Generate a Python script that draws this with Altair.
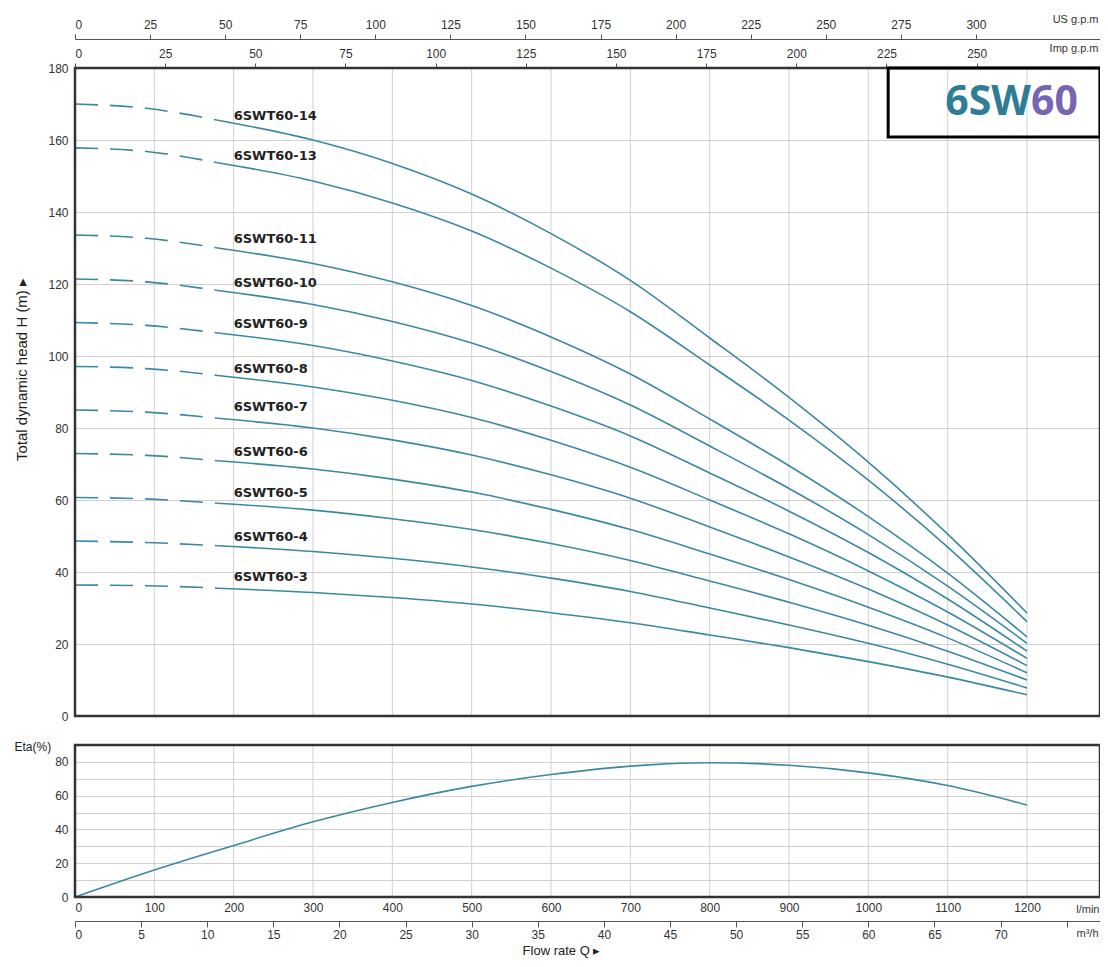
import altair as alt
import pandas as pd

# ---------------- data ----------------
FLOW = [0, 90, 180, 300, 400, 500, 600, 700, 800, 900, 1000, 1100, 1200]  # l/min
DASH_LIMIT = 180  # dashed part of the curves ends here

MODELS = ["6SWT60-14", "6SWT60-13", "6SWT60-11", "6SWT60-10", "6SWT60-9",
          "6SWT60-8", "6SWT60-7", "6SWT60-6", "6SWT60-5", "6SWT60-4", "6SWT60-3"]

HEAD_14 = [170.0, 168.8, 165.5, 160.0, 153.5, 145.0, 134.0, 121.0, 105.0, 88.5, 70.5, 50.5, 28.6]
HEAD_13 = [157.8, 156.8, 153.7, 148.6, 142.5, 134.7, 124.4, 112.3, 97.5, 82.2, 65.5, 46.9, 26.2]
HEAD_11 = [133.6, 132.7, 130.0, 125.7, 120.6, 114.0, 105.3, 95.0, 82.5, 69.5, 55.4, 39.7, 22.0]
HEAD_10 = [121.4, 120.6, 118.2, 114.3, 109.6, 103.6, 95.7, 86.4, 75.0, 63.2, 50.4, 36.1, 20.2]
HEAD_9 = [109.3, 108.5, 106.4, 102.9, 98.6, 93.2, 86.1, 77.8, 67.5, 56.9, 45.4, 32.5, 18.0]
HEAD_8 = [97.1, 96.5, 94.6, 91.4, 87.7, 82.9, 76.6, 69.1, 60.0, 50.6, 40.3, 28.9, 16.0]
HEAD_7 = [85.0, 84.4, 82.7, 80.0, 76.7, 72.5, 67.0, 60.5, 52.5, 44.2, 35.3, 25.3, 14.0]
HEAD_6 = [72.9, 72.4, 70.9, 68.6, 65.8, 62.2, 57.4, 51.8, 45.0, 37.9, 30.2, 21.7, 12.0]
HEAD_5 = [60.7, 60.3, 59.1, 57.2, 54.8, 51.8, 47.9, 43.2, 37.5, 31.6, 25.2, 18.0, 10.0]
HEAD_4 = [48.6, 48.2, 47.3, 45.7, 43.8, 41.4, 38.3, 34.6, 30.0, 25.3, 20.2, 14.4, 7.8]
HEAD_3 = [36.4, 36.2, 35.5, 34.3, 32.9, 31.1, 28.7, 25.9, 22.5, 19.0, 15.1, 10.8, 5.9]

HEADS = [HEAD_14, HEAD_13, HEAD_11, HEAD_10, HEAD_9, HEAD_8, HEAD_7,
         HEAD_6, HEAD_5, HEAD_4, HEAD_3]

LABEL_FLOW = 200
LABEL_HEAD = [166.6, 155.6, 132.4, 120.4, 108.9, 96.5, 85.7, 73.3, 62.0, 49.8, 38.6]

ETA_FLOW = [0, 100, 200, 300, 400, 500, 600, 700, 800, 900, 1000, 1100, 1200]
ETA = [0, 16.0, 30.5, 44.5, 56.0, 65.5, 72.5, 77.5, 79.5, 78.0, 73.5, 66.0, 54.5]

LMIN_TICKS = list(range(0, 1201, 100))
HEAD_TICKS = list(range(0, 181, 20))
ETA_TICKS = list(range(0, 81, 10))
US_TICKS = list(range(0, 301, 25))
IMP_TICKS = list(range(0, 251, 25))
M3H_TICKS = list(range(0, 76, 5))

# ---------------- styling / layout ----------------
CURVE = "#3b88a4"
GRID = "#d0d0d0"
FRAME = "#333333"
FONT = "Liberation Sans"
LBL = 12
X_MAX = 1292          # right edge of the plot frame, l/min
W = 1025
MAIN_H = 648
GAP = 29
ETA_H = 152
H = MAIN_H + GAP + ETA_H

# title box "6SW60" (l/min, m)
BOX = {"flow": 1025, "flow2": X_MAX, "head": 180, "head2": 160.8}
BOX_TEXT_FLOW = 1205
BOX_TEXT_HEAD = 170.3

# ---------------- tables ----------------
rows = []
for model, heads in zip(MODELS, HEADS):
    for q, h in zip(FLOW, heads):
        if q <= DASH_LIMIT:
            rows.append({"model": model, "flow": q, "head": h, "seg": "dash"})
        if q >= DASH_LIMIT:
            rows.append({"model": model, "flow": q, "head": h, "seg": "solid"})
curves = pd.DataFrame(rows)
labels = pd.DataFrame({"model": MODELS, "flow": [LABEL_FLOW] * len(MODELS), "head": LABEL_HEAD})
eta = pd.DataFrame({"flow": ETA_FLOW, "eta": ETA})
box = pd.DataFrame([BOX])
boxtext = pd.DataFrame({"flow": [BOX_TEXT_FLOW], "head": [BOX_TEXT_HEAD]})
vgrid = pd.DataFrame({"flow": LMIN_TICKS[1:]})
frame_main = pd.DataFrame({"flow": [0], "flow2": [X_MAX], "head": [0], "head2": [180]})
frame_eta = pd.DataFrame({"flow": [0], "flow2": [X_MAX], "eta": [0], "eta2": [90]})


def xs():
    return alt.Scale(domain=[0, X_MAX], nice=False, zero=False)


def hs():
    return alt.Scale(domain=[0, 180], range=[MAIN_H, 0], nice=False, zero=False)


def es():
    return alt.Scale(domain=[0, 90], range=[H, H - ETA_H], nice=False, zero=False)


def side_title(**kw):
    base = dict(titleAngle=0, titleAlign="right", titleBaseline="middle", titleFontSize=11,
                titleFontWeight="normal", titleColor="#333", titleFont=FONT,
                labelFont=FONT, labelFontSize=LBL, labelColor="#333")
    base.update(kw)
    return base


x_plain = alt.X("flow:Q", scale=xs(), axis=None)
y_plain = alt.Y("head:Q", scale=hs(), axis=None)

# vertical grid, main panel (carries the head axis with horizontal grid)
vg_main = alt.Chart(vgrid).mark_rule(color=GRID, strokeWidth=1).encode(
    x=x_plain,
    y=alt.Y(datum=0, scale=hs(), axis=alt.Axis(
        orient="left", values=HEAD_TICKS, ticks=False, domain=False, grid=True, labelPadding=7,
        labelFont=FONT, labelFontSize=LBL, labelColor="#333",
        title="Total dynamic head H (m) ▸", titleX=-54, titleY=301, titleAngle=-90,
        titleAlign="center", titleBaseline="middle",
        titleFontSize=15, titleFontWeight="normal", titleColor="#222", titleFont=FONT)),
    y2=alt.Y2(datum=180))

# vertical grid, efficiency panel (carries the eta axis)
vg_eta = alt.Chart(vgrid).mark_rule(color=GRID, strokeWidth=1).encode(
    x=x_plain,
    y=alt.Y(datum=0, scale=es(), axis=alt.Axis(
        orient="left", values=ETA_TICKS, labelExpr="datum.value % 20 === 0 ? datum.label : ''",
        ticks=False, domain=False, grid=True, labelPadding=7,
        labelFont=FONT, labelFontSize=LBL, labelColor="#333",
        title="Eta(%)", titleAngle=0, titleX=-61, titleY=MAIN_H + GAP + 1, titleAlign="left",
        titleBaseline="middle", titleFontSize=12, titleFontWeight="normal", titleColor="#222",
        titleFont=FONT)),
    y2=alt.Y2(datum=90))

dash = alt.Chart(curves).transform_filter(alt.datum.seg == "dash").mark_line(
    color=CURVE, strokeWidth=1.6, strokeDash=[23, 12], interpolate="monotone"
).encode(x=x_plain, y=y_plain, detail="model:N")

solid = alt.Chart(curves).transform_filter(alt.datum.seg == "solid").mark_line(
    color=CURVE, strokeWidth=1.6, interpolate="monotone"
).encode(x=x_plain, y=y_plain, detail="model:N")

lab = alt.Chart(labels).mark_text(align="left", baseline="middle", font="DejaVu Sans",
                                  fontSize=13, fontWeight="bold", color="#222").encode(
    x=x_plain, y=y_plain, text="model:N")

eta_line = alt.Chart(eta).mark_line(color=CURVE, strokeWidth=1.6, interpolate="monotone").encode(
    x=alt.X("flow:Q", scale=xs(), axis=alt.Axis(
        orient="bottom", values=LMIN_TICKS, format="d", ticks=False, domain=False, grid=False,
        labelPadding=5, title="l/min", titleX=W - 1, titleY=12, **side_title())),
    y=alt.Y("eta:Q", scale=es(), axis=None))

fr_main = alt.Chart(frame_main).mark_rect(fillOpacity=0, stroke=FRAME, strokeWidth=2.5).encode(
    x=x_plain, x2="flow2:Q", y=y_plain, y2="head2:Q")
fr_eta = alt.Chart(frame_eta).mark_rect(fillOpacity=0, stroke=FRAME, strokeWidth=2.5).encode(
    x=x_plain, x2="flow2:Q", y=alt.Y("eta:Q", scale=es(), axis=None), y2="eta2:Q")

boxmark = alt.Chart(box).mark_rect(fillOpacity=0, stroke="black", strokeWidth=3).encode(
    x=x_plain, x2="flow2:Q", y=y_plain, y2="head2:Q")

t1 = alt.Chart(boxtext).mark_text(text="6SW", align="right", baseline="middle", font="Open Sans",
                                  fontWeight="bold", fontSize=41, color="#2f7d95").encode(
    x=x_plain, y=y_plain)
t2 = alt.Chart(boxtext).mark_text(text="60", align="left", baseline="middle", font="Open Sans",
                                  fontWeight="bold", fontSize=41, color="#7864b4").encode(
    x=x_plain, y=y_plain)

imp_layer = alt.Chart(pd.DataFrame({"imp": IMP_TICKS})).mark_point(opacity=0).encode(
    x=alt.X("imp:Q", scale=alt.Scale(domain=[0, X_MAX / 4.54609], nice=False, zero=False),
            axis=alt.Axis(orient="top", offset=0, values=IMP_TICKS, tickSize=5, labelPadding=3,
                          grid=False, domain=False, tickColor="#555",
                          title="Imp g.p.m", titleX=W - 2, titleY=-20, **side_title())),
    y=alt.value(0))

us_layer = alt.Chart(pd.DataFrame({"us": US_TICKS})).mark_point(opacity=0).encode(
    x=alt.X("us:Q", scale=alt.Scale(domain=[0, X_MAX / 3.78541], nice=False, zero=False),
            axis=alt.Axis(orient="top", offset=29, values=US_TICKS, tickSize=5, labelPadding=3,
                          grid=False, domain=True, domainColor="#555", tickColor="#555",
                          title="US g.p.m", titleX=W - 2, titleY=-20, **side_title())),
    y=alt.value(0))

m3h_layer = alt.Chart(pd.DataFrame({"m3h": M3H_TICKS})).mark_point(opacity=0).encode(
    x=alt.X("m3h:Q", scale=alt.Scale(domain=[0, X_MAX * 0.06], nice=False, zero=False),
            axis=alt.Axis(orient="bottom", offset=24, values=M3H_TICKS,
                          labelExpr="datum.value <= 70 ? datum.label : ''",
                          tickSize=6, labelPadding=2, grid=False, domain=True,
                          domainColor="#555", tickColor="#555",
                          title="m³/h", titleX=W - 2, titleY=12, **side_title())),
    y=alt.value(0))

chart = alt.layer(
    vg_main, vg_eta, dash, solid, lab, eta_line, fr_main, fr_eta, boxmark, t1, t2,
    imp_layer, us_layer, m3h_layer
).resolve_scale(x="independent", y="independent").properties(
    width=W, height=H,
    autosize=alt.AutoSizeParams(type="none"),
    padding={"left": 67, "top": 60, "right": 0, "bottom": 62},
    background="white",
    title=alt.TitleParams("Flow rate   Q   ▸", orient="bottom", anchor="middle", offset=5,
                          fontSize=13, fontWeight="normal", font=FONT, color="#222", dx=-26)
).configure_view(strokeWidth=0).configure_axis(
    labelFont=FONT, labelFontSize=LBL, labelColor="#333", gridColor=GRID, gridWidth=1
)

chart.save("out.html", embed_options={"renderer": "svg", "actions": False})
